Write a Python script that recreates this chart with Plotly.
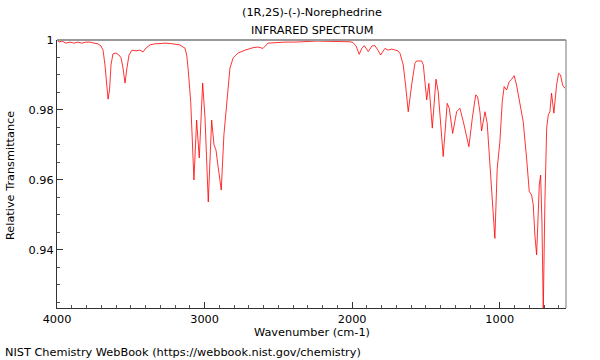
import plotly.graph_objects as go

# Wavenumber (cm-1) and relative transmittance
wavenumber = [
    4000, 3986, 3966, 3939, 3912, 3885, 3858, 3831, 3804, 3776, 3749, 3722, 3702, 3688,
    3675, 3661, 3654, 3644, 3634, 3621, 3600, 3580, 3566, 3553, 3539, 3526, 3512, 3492,
    3465, 3438, 3417, 3397, 3370, 3336, 3302, 3268, 3234, 3201, 3167, 3146, 3133, 3121,
    3112, 3094, 3072, 3054, 3036, 3013, 2997, 2975, 2952, 2936, 2923, 2907, 2887, 2869,
    2850, 2828, 2806, 2772, 2726, 2672, 2638, 2604, 2570, 2523, 2455, 2388, 2320, 2239,
    2150, 2083, 2015, 1995, 1974, 1952, 1934, 1918, 1891, 1866, 1846, 1825, 1807, 1778,
    1758, 1732, 1710, 1690, 1676, 1654, 1638, 1620, 1597, 1575, 1563, 1529, 1518, 1495,
    1480, 1457, 1432, 1417, 1383, 1356, 1342, 1319, 1292, 1270, 1247, 1231, 1209, 1186,
    1163, 1150, 1134, 1123, 1100, 1085, 1066, 1048, 1033, 1017, 999, 983, 970, 953,
    936, 919, 902, 886, 863, 841, 818, 800, 784, 773, 762, 750, 732, 723,
    714, 705, 694, 682, 671, 660, 649, 633, 615, 601, 588, 574, 558,
]
transmittance = [
    1.0000, 0.9994, 0.9997, 0.9991, 0.9994, 0.9991, 0.9994, 0.9991, 0.9994, 0.9994, 0.9991, 0.9989, 0.9983, 0.9971,
    0.9929, 0.9857, 0.9831, 0.9857, 0.9929, 0.9960, 0.9963, 0.9957, 0.9949, 0.9920, 0.9877, 0.9920, 0.9957, 0.9971,
    0.9969, 0.9971, 0.9966, 0.9977, 0.9986, 0.9989, 0.9991, 0.9991, 0.9990, 0.9989, 0.9986, 0.9980, 0.9977, 0.9957,
    0.9920, 0.9824, 0.9600, 0.9771, 0.9663, 0.9877, 0.9777, 0.9537, 0.9771, 0.9700, 0.9686, 0.9634, 0.9571, 0.9729,
    0.9824, 0.9920, 0.9949, 0.9963, 0.9971, 0.9978, 0.9980, 0.9976, 0.9991, 0.9993, 0.9994, 0.9994, 0.9996, 0.9997,
    0.9996, 0.9996, 0.9995, 0.9993, 0.9983, 0.9959, 0.9977, 0.9984, 0.9967, 0.9983, 0.9984, 0.9971, 0.9957, 0.9976,
    0.9971, 0.9974, 0.9971, 0.9969, 0.9962, 0.9929, 0.9871, 0.9795, 0.9871, 0.9933, 0.9940, 0.9940, 0.9929, 0.9829,
    0.9876, 0.9748, 0.9888, 0.9852, 0.9667, 0.9819, 0.9805, 0.9733, 0.9795, 0.9805, 0.9767, 0.9738, 0.9695, 0.9776,
    0.9843, 0.9838, 0.9794, 0.9740, 0.9795, 0.9762, 0.9652, 0.9519, 0.9433, 0.9633, 0.9709, 0.9824, 0.9867, 0.9857,
    0.9881, 0.9888, 0.9898, 0.9871, 0.9814, 0.9767, 0.9662, 0.9567, 0.9557, 0.9529, 0.9443, 0.9386, 0.9586, 0.9614,
    0.9481, 0.9225, 0.9538, 0.9748, 0.9786, 0.9795, 0.9848, 0.9791, 0.9871, 0.9905, 0.9900, 0.9871, 0.9862,
]

x_ticks = [4000, 3000, 2000, 1000]
x_tick_labels = ["4000", "3000", "2000", "1000"]
y_ticks = [1.0, 0.98, 0.96, 0.94]
y_tick_labels = ["1", "0.98", "0.96", "0.94"]

FONT = "DejaVu Sans"
FS = 11.3

fig = go.Figure()
fig.add_trace(go.Scatter(
    x=wavenumber, y=transmittance, mode="lines",
    line=dict(color="rgba(255,0,0,0.8)", width=1),
    hoverinfo="skip", showlegend=False,
))

fig.update_layout(
    width=600, height=360,
    margin=dict(l=57, r=34, t=40, b=52),
    paper_bgcolor="white", plot_bgcolor="white",
    font=dict(family=FONT, size=FS, color="black"),
    showlegend=False,
    xaxis=dict(
        range=[4000, 551], showgrid=False, zeroline=False,
        tickvals=x_ticks, ticktext=x_tick_labels,
        ticks="inside", ticklen=6, tickwidth=1, tickcolor="#333",
        minor=dict(dtick=100, ticks="inside", ticklen=3, tickcolor="#555", showgrid=False),
        showline=True, linecolor="#333", linewidth=1,
        tickfont=dict(family=FONT, size=FS),
    ),
    yaxis=dict(
        range=[0.9234, 1.0], showgrid=False, zeroline=False,
        tickvals=y_ticks, ticktext=y_tick_labels,
        ticks="inside", ticklen=6, tickwidth=1, tickcolor="#333",
        minor=dict(dtick=0.005, ticks="inside", ticklen=3, tickcolor="#555", showgrid=False),
        showline=True, linecolor="#333", linewidth=1,
        tickfont=dict(family=FONT, size=FS),
    ),
    shapes=[
        dict(type="line", xref="paper", yref="paper", x0=0, x1=1, y0=1, y1=1,
             line=dict(color="#999", width=2)),
        dict(type="line", xref="paper", yref="paper", x0=1, x1=1, y0=0, y1=1,
             line=dict(color="#777", width=1)),
    ],
    annotations=[
        dict(text="(1R,2S)-(-)-Norephedrine", xref="paper", yref="paper",
             x=0.5, y=(308 - 13) / 268, xanchor="center", yanchor="middle",
             showarrow=False, font=dict(family=FONT, size=FS)),
        dict(text="INFRARED SPECTRUM", xref="paper", yref="paper",
             x=0.5, y=(308 - 30) / 268, xanchor="center", yanchor="middle",
             showarrow=False, font=dict(family=FONT, size=FS)),
        dict(text="Wavenumber (cm-1)", xref="paper", yref="paper",
             x=0.5, y=(308 - 332) / 268, xanchor="center", yanchor="middle",
             showarrow=False, font=dict(family=FONT, size=FS)),
        dict(text="Relative Transmittance", xref="paper", yref="paper",
             x=(10 - 57) / 509, y=(308 - 176) / 268, xanchor="center", yanchor="middle",
             textangle=-90, showarrow=False, font=dict(family=FONT, size=FS)),
        dict(text="NIST Chemistry WebBook (https://webbook.nist.gov/chemistry)",
             xref="paper", yref="paper",
             x=(3 - 57) / 509, y=(308 - 352) / 268, xanchor="left", yanchor="middle",
             showarrow=False, font=dict(family=FONT, size=FS)),
    ],
)

fig.write_html("out.html", config={"displayModeBar": False},
               post_script="document.body.style.margin='0';")
